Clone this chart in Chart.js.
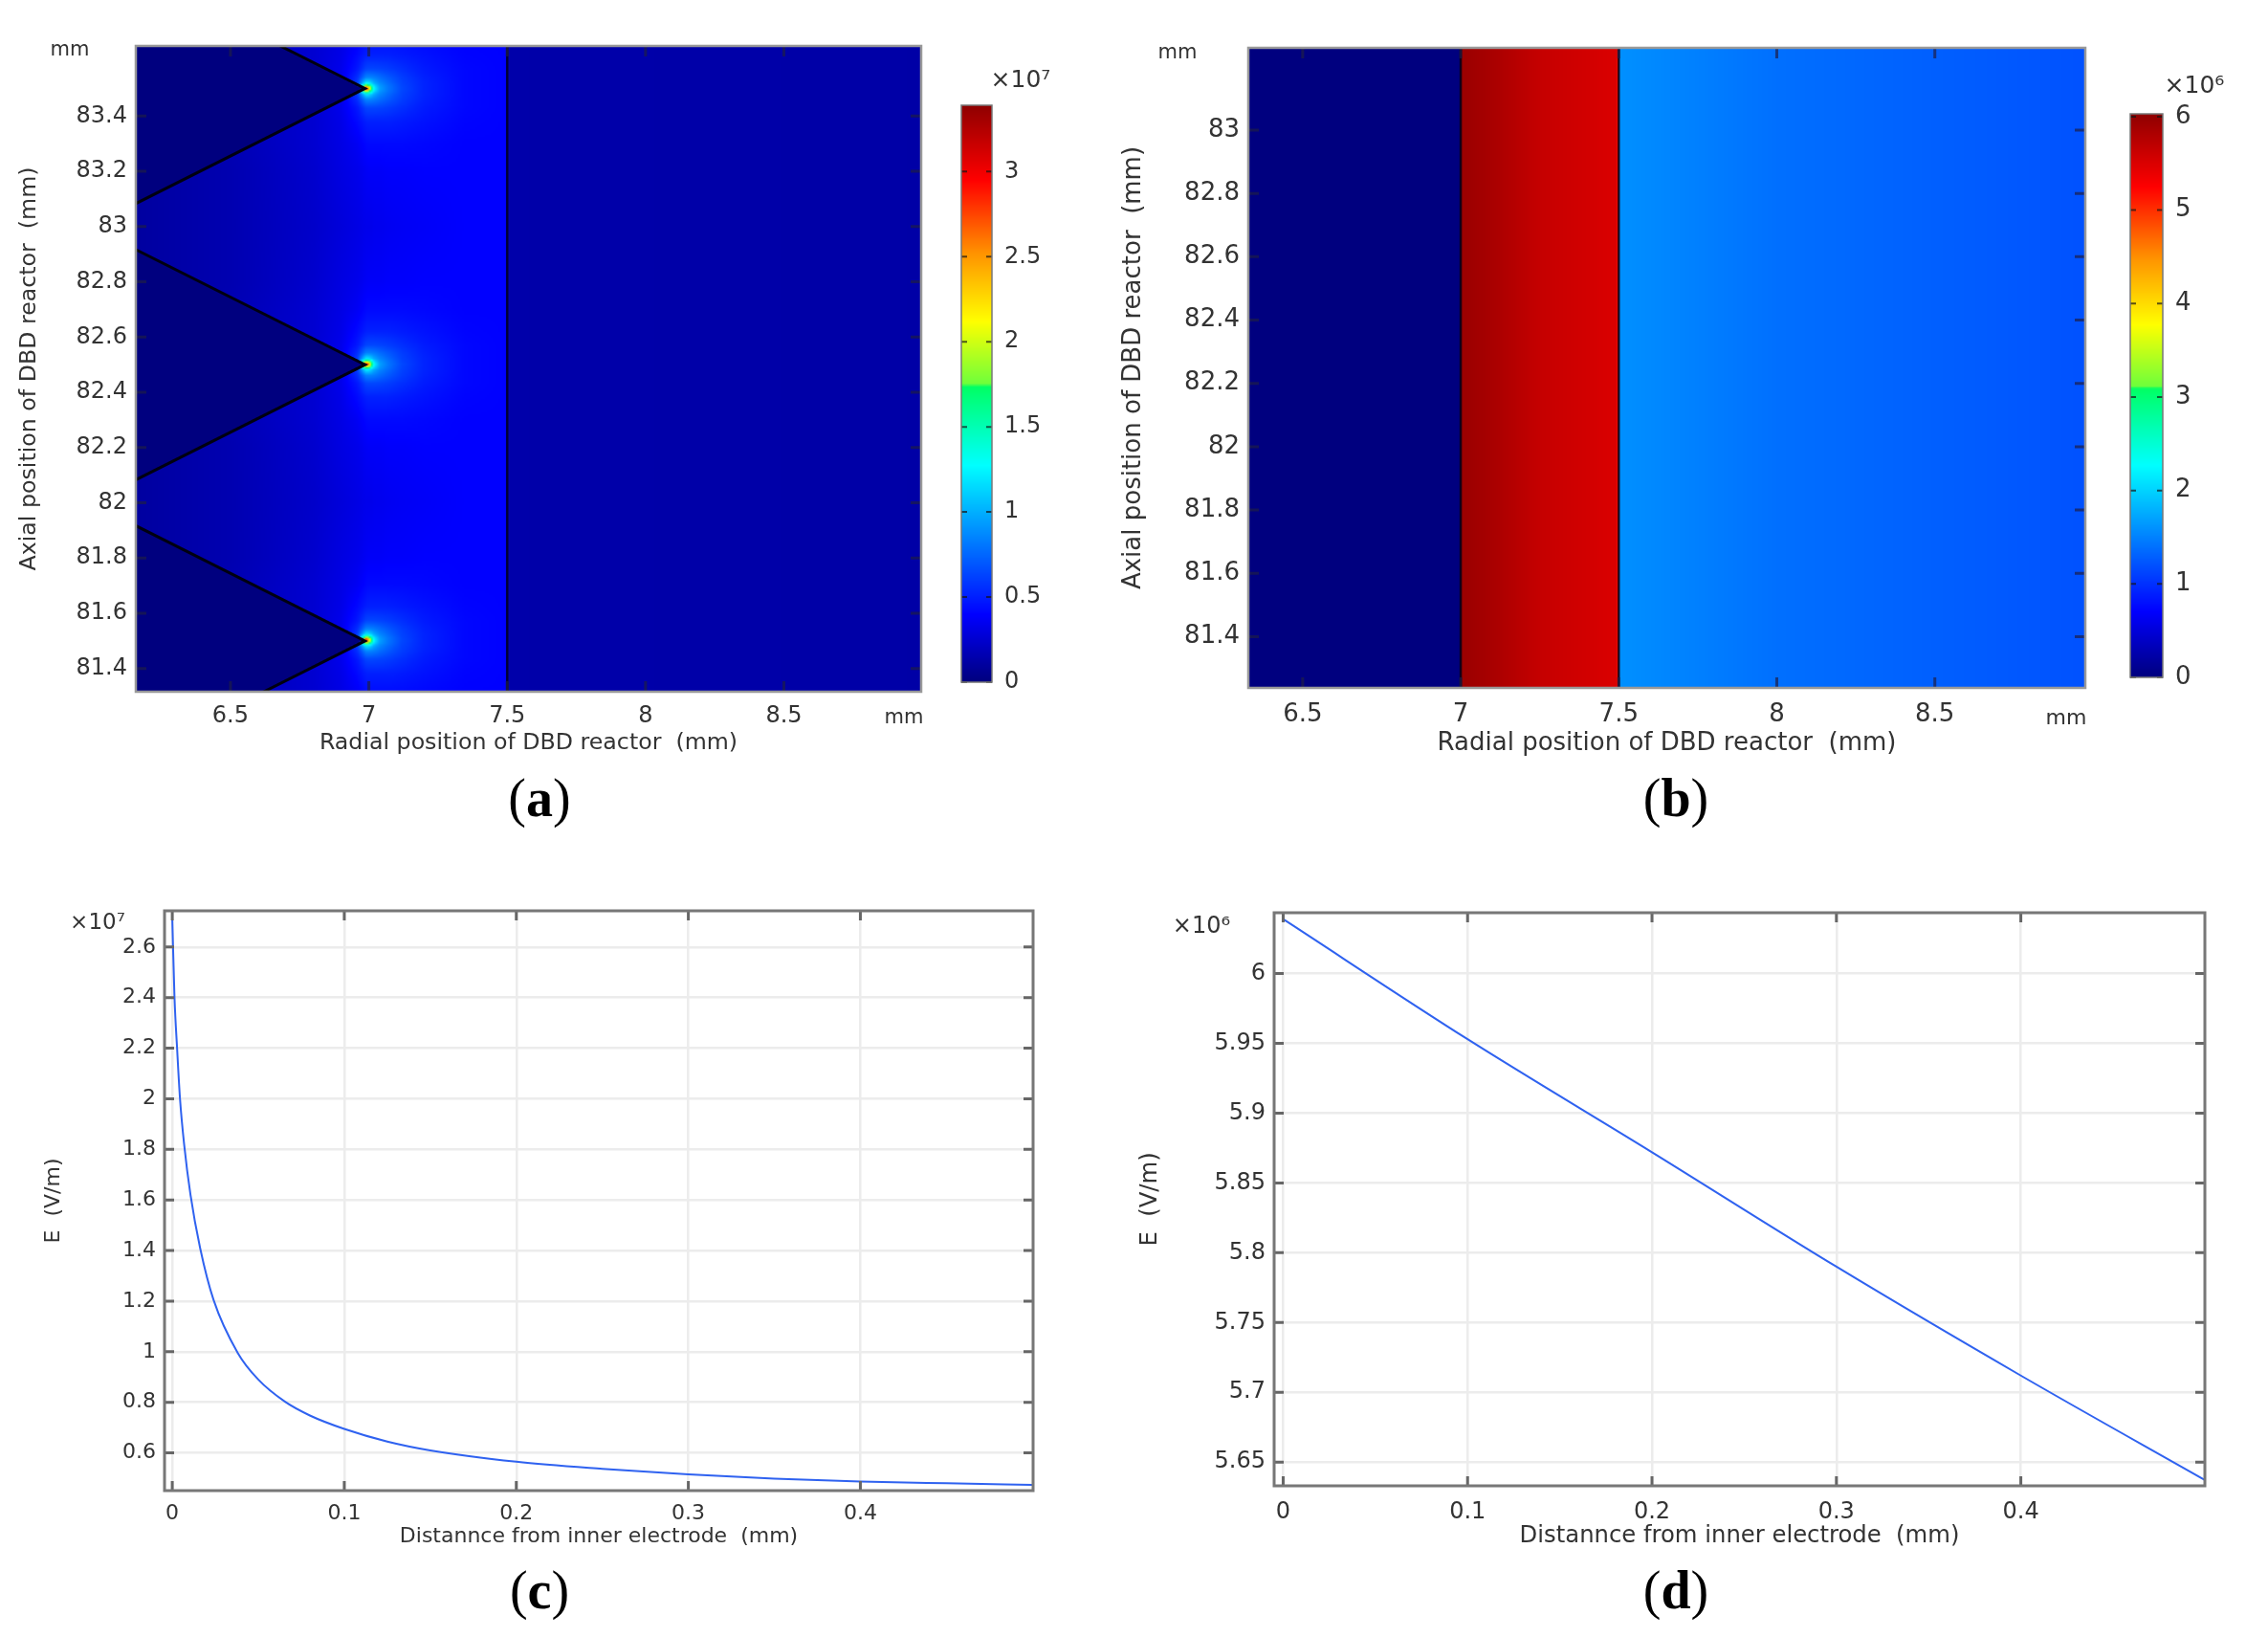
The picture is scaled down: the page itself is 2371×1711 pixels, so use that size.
<!DOCTYPE html>
<html>
<head>
<meta charset="utf-8">
<title>Campo eléctrico en el reactor DBD</title>
<script src="https://cdn.jsdelivr.net/npm/chart.js@4/dist/chart.umd.min.js"></script>
<style>
    html, body { margin: 0; padding: 0; background: #fff; }
    #lienzo { position: relative; width: 2371px; height: 1711px; overflow: hidden; background: #fff; }
    #lienzo canvas { position: absolute; }
    .rotulo { position: absolute; transform: translate(-50%, -50%); white-space: nowrap; color: #333; font-family: "DejaVu Sans", sans-serif; }
    .pie { position: absolute; transform: translate(-50%, -50%); color: #000; font-family: "Liberation Serif", serif; font-size: 56px; }
</style>
</head>
<body>
<div id="lienzo"></div>
<script>
// Panel (a): campo por filas (distancia axial a la punta) y columnas (posición radial), en 1e7 V/m
const radialA = [6.16, 6.5, 6.8, 6.9, 6.96, 6.99, 7.0, 7.01, 7.02, 7.04, 7.07, 7.12, 7.2, 7.35, 7.5];
const distanciaPuntaA = [0, 0.01, 0.02, 0.04, 0.07, 0.12, 0.2, 0.3, 0.5];
const fila0 = [0.1, 0.2, 0.25, 0.3, 0.5, 3.3, 2.6, 1.8, 1.25, 0.95, 0.8, 0.64, 0.51, 0.41, 0.39];
const fila1 = [0.1, 0.2, 0.25, 0.3, 0.55, 1.9, 1.8, 1.5, 1.15, 0.92, 0.79, 0.63, 0.51, 0.41, 0.39];
const fila2 = [0.1, 0.2, 0.25, 0.3, 0.6, 1.2, 1.2, 1.1, 0.98, 0.86, 0.76, 0.62, 0.51, 0.41, 0.39];
const fila3 = [0.1, 0.2, 0.25, 0.32, 0.55, 0.84, 0.85, 0.84, 0.82, 0.77, 0.7, 0.6, 0.5, 0.41, 0.39];
const fila4 = [0.1, 0.18, 0.25, 0.33, 0.47, 0.62, 0.63, 0.63, 0.63, 0.62, 0.6, 0.55, 0.48, 0.41, 0.39];
const fila5 = [0.1, 0.17, 0.25, 0.32, 0.42, 0.49, 0.5, 0.5, 0.5, 0.5, 0.5, 0.48, 0.45, 0.4, 0.39];
const fila6 = [0.1, 0.16, 0.25, 0.31, 0.36, 0.41, 0.42, 0.42, 0.42, 0.42, 0.42, 0.42, 0.41, 0.39, 0.39];
const fila7 = [0.1, 0.15, 0.24, 0.3, 0.33, 0.36, 0.37, 0.37, 0.37, 0.37, 0.38, 0.38, 0.39, 0.39, 0.39];
const fila8 = [0.1, 0.15, 0.23, 0.28, 0.31, 0.33, 0.33, 0.33, 0.34, 0.34, 0.35, 0.36, 0.37, 0.39, 0.39];
const filasA = [fila0, fila1, fila2, fila3, fila4, fila5, fila6, fila7, fila8];
const exteriorX = [7.5, 9];
const exteriorV = [0.13, 0.12];

// Electrodo dentado: puntas y perfil del diente
const puntasY = [83.5, 82.5, 81.5];
const dienteX = [6.1, 6.986, 6.1];
const dienteAlto = [0.446, 0, -0.446];
const paredA = [7.5];

// Panel (b): campo en función de la posición radial, en 1e6 V/m
const radialB = [6.3, 6.999, 7.001, 7.1, 7.25, 7.499, 7.501, 8, 8.5, 9];
const campoB = [0, 0, 5.95, 5.85, 5.65, 5.5, 1.58, 1.38, 1.28, 1.19];
const paredesB = [7, 7.5];

// Panel (c): curva E, en 1e7 V/m
const distanciaC = [0, 0.0013, 0.0028, 0.0045, 0.0069, 0.0106, 0.0162, 0.024, 0.0381, 0.05, 0.0654, 0.08, 0.1, 0.125, 0.15, 0.2, 0.25, 0.3, 0.35, 0.4, 0.45, 0.5];
const campoC = [2.71, 2.4, 2.2, 2.0, 1.82, 1.62, 1.41, 1.205, 0.995, 0.89, 0.803, 0.748, 0.695, 0.645, 0.61, 0.565, 0.537, 0.515, 0.498, 0.487, 0.48, 0.474];

// Panel (d): curva E, en 1e6 V/m
const distanciaD = [0, 0.1, 0.2, 0.3, 0.4, 0.5];
const campoD = [6.039, 5.953, 5.872, 5.79, 5.712, 5.637];

// Marcas de los ejes
const ticksRadialA = [6.5, 7, 7.5, 8, 8.5];
const ticksAxialA = [81.4, 81.6, 81.8, 82, 82.2, 82.4, 82.6, 82.8, 83, 83.2, 83.4];
const ticksAxialB = [81.4, 81.6, 81.8, 82, 82.2, 82.4, 82.6, 82.8, 83];
const ticksBarraA = [0, 0.5, 1, 1.5, 2, 2.5, 3];
const ticksBarraB = [0, 1, 2, 3, 4, 5, 6];
const ticksDistancia = [0, 0.1, 0.2, 0.3, 0.4];
const ticksCampoC = [0.6, 0.8, 1, 1.2, 1.4, 1.6, 1.8, 2, 2.2, 2.4, 2.6];
const ticksCampoD = [5.65, 5.7, 5.75, 5.8, 5.85, 5.9, 5.95, 6];

// Escala de color (fracción del máximo -> rgb)
const paradasColor = [0, 0.115, 0.375, 0.512, 0.516, 0.625, 0.74, 0.87, 1];
const coloresEscala = [[0, 0, 127], [0, 0, 255], [0, 255, 255], [0, 255, 100], [110, 255, 60], [255, 255, 0], [255, 150, 0], [255, 0, 0], [143, 0, 0]];

const AZUL_CURVA = '#2f62f0';
const GRIS_TEXTO = '#333';

function interpolar(xs, vs, x) {
    if (x <= xs[0]) return vs[0];
    for (let i = 1; i < xs.length; i++) {
        if (x <= xs[i]) {
            const t = (x - xs[i - 1]) / (xs[i] - xs[i - 1]);
            return vs[i - 1] + t * (vs[i] - vs[i - 1]);
        }
    }
    return vs[vs.length - 1];
}

function colorDe(fraccion) {
    const f = Math.max(0, Math.min(1, fraccion));
    return [0, 1, 2].map(c => interpolar(paradasColor, coloresEscala.map(k => k[c]), f));
}

/**
 * Valor del campo del panel (a) en una posición del reactor
 */
function valorPanelA(x, y) {
    if (x >= paredA[0]) return interpolar(exteriorX, exteriorV, x);
    const punta = puntasY.reduce((a, b) => Math.abs(b - y) < Math.abs(a - y) ? b : a);
    const dy = Math.abs(y - punta);
    const pendiente = dienteAlto[0] / (dienteX[1] - dienteX[0]);
    if (dy < pendiente * (dienteX[1] - x)) return 0;
    let i = 1;
    while (i < distanciaPuntaA.length - 1 && dy > distanciaPuntaA[i]) i++;
    const t = Math.min(1, (dy - distanciaPuntaA[i - 1]) / (distanciaPuntaA[i] - distanciaPuntaA[i - 1]));
    const v0 = interpolar(radialA, filasA[i - 1], x);
    const v1 = interpolar(radialA, filasA[i], x);
    return v0 + t * (v1 - v0);
}

// Pinta el mapa de color del área del gráfico usando las escalas de la propia gráfica
const pluginMapaColor = {
    id: 'mapaColor',
    beforeDatasetsDraw(chart, args, opts) {
        if (!opts.valor) return;
        const { ctx, chartArea: area, scales } = chart;
        const paso = 2;
        const ancho = Math.ceil(area.width / paso);
        const alto = Math.ceil(area.height / paso);
        const aux = document.createElement('canvas');
        aux.width = ancho;
        aux.height = alto;
        const actx = aux.getContext('2d');
        const img = actx.createImageData(ancho, alto);
        for (let j = 0; j < alto; j++) {
            const yv = scales.y.getValueForPixel(area.top + (j + 0.5) * paso);
            for (let i = 0; i < ancho; i++) {
                const xv = scales.x.getValueForPixel(area.left + (i + 0.5) * paso);
                const rgb = colorDe(opts.valor(xv, yv) / opts.maximo);
                const k = (j * ancho + i) * 4;
                img.data[k] = rgb[0];
                img.data[k + 1] = rgb[1];
                img.data[k + 2] = rgb[2];
                img.data[k + 3] = 255;
            }
        }
        actx.putImageData(img, 0, 0);
        ctx.save();
        ctx.imageSmoothingEnabled = true;
        ctx.drawImage(aux, area.left, area.top, area.width, area.height);
        ctx.restore();
    }
};

// Marco y marcas hacia dentro en los cuatro lados
const pluginMarco = {
    id: 'marco',
    afterDatasetsDraw(chart, args, opts) {
        const { ctx, chartArea: a, scales } = chart;
        ctx.save();
        ctx.strokeStyle = opts.colorMarca;
        ctx.lineWidth = opts.grosorMarca;
        ctx.beginPath();
        if (scales.x.options.display) {
            scales.x.ticks.forEach(t => {
                const px = scales.x.getPixelForValue(t.value);
                ctx.moveTo(px, a.top);
                ctx.lineTo(px, a.top + opts.largo);
                ctx.moveTo(px, a.bottom);
                ctx.lineTo(px, a.bottom - opts.largo);
            });
        }
        scales.y.ticks.forEach(t => {
            const py = scales.y.getPixelForValue(t.value);
            ctx.moveTo(a.left, py);
            ctx.lineTo(a.left + opts.largo, py);
            ctx.moveTo(a.right, py);
            ctx.lineTo(a.right - opts.largo, py);
        });
        ctx.stroke();
        ctx.strokeStyle = opts.colorMarco;
        ctx.lineWidth = opts.grosorMarco;
        ctx.strokeRect(a.left, a.top, a.width, a.height);
        ctx.restore();
    }
};

function crearCanvas(caja) {
    const canvas = document.createElement('canvas');
    canvas.style.left = caja.x + 'px';
    canvas.style.top = caja.y + 'px';
    canvas.width = caja.w;
    canvas.height = caja.h;
    document.getElementById('lienzo').appendChild(canvas);
    return canvas;
}

function ejeConTicks(valores, tamano, relleno) {
    return {
        afterBuildTicks: eje => { eje.ticks = valores.map(v => ({ value: v })); },
        ticks: {
            autoSkip: false,
            maxRotation: 0,
            padding: relleno,
            color: GRIS_TEXTO,
            font: { family: 'DejaVu Sans', size: tamano },
            callback: v => String(v)
        }
    };
}

/**
 * Crea una gráfica principal con su área de trazado en píxeles de la página
 */
function crearPanel(p) {
    const c = p.caja, r = p.area;
    const ejeX = ejeConTicks(p.ticksX, p.tamanoTicks, p.rellenoX);
    const ejeY = ejeConTicks(p.ticksY, p.tamanoTicks, p.rellenoY);
    const rejilla = p.rejilla
        ? { display: true, color: '#ececec', lineWidth: 2.5, drawTicks: false }
        : { display: false, drawTicks: false };
    new Chart(crearCanvas(c), {
        type: 'line',
        data: { datasets: p.series },
        options: {
            responsive: false,
            animation: false,
            layout: {
                autoPadding: false,
                padding: { left: 0, bottom: 0, top: r.t - c.y, right: c.x + c.w - r.r }
            },
            plugins: {
                legend: { display: false },
                tooltip: { enabled: false },
                mapaColor: { valor: p.valor, maximo: p.maximo },
                marco: p.marco
            },
            scales: {
                x: Object.assign(ejeX, {
                    type: 'linear',
                    min: p.rangoX[0],
                    max: p.rangoX[1],
                    grid: rejilla,
                    border: { display: false },
                    afterFit: e => { e.height = c.y + c.h - r.b; },
                    title: {
                        display: true,
                        text: p.tituloX,
                        color: GRIS_TEXTO,
                        font: { family: 'DejaVu Sans', size: p.tamanoTitulo, lineHeight: 1 },
                        padding: { top: 0, bottom: c.y + c.h - p.tituloXCentro - p.tamanoTitulo / 2 }
                    }
                }),
                y: Object.assign(ejeY, {
                    type: 'linear',
                    min: p.rangoY[0],
                    max: p.rangoY[1],
                    grid: rejilla,
                    border: { display: false },
                    afterFit: e => { e.width = r.l - c.x; },
                    title: {
                        display: true,
                        text: p.tituloY,
                        color: GRIS_TEXTO,
                        font: { family: 'DejaVu Sans', size: p.tamanoTitulo, lineHeight: 1 },
                        padding: { top: p.tituloYCentro - c.x - p.tamanoTitulo / 2, bottom: 0 }
                    }
                })
            }
        },
        plugins: [pluginMapaColor, pluginMarco]
    });
}

/**
 * Crea la barra de color vertical de un panel
 */
function crearBarra(b) {
    const c = b.caja, r = b.area;
    const ejeY = ejeConTicks(b.ticks, b.tamanoTicks, b.relleno);
    new Chart(crearCanvas(c), {
        type: 'line',
        data: { datasets: [] },
        options: {
            responsive: false,
            animation: false,
            layout: {
                autoPadding: false,
                padding: { left: r.l - c.x, top: r.t - c.y, right: 0, bottom: c.y + c.h - r.b }
            },
            plugins: {
                legend: { display: false },
                tooltip: { enabled: false },
                mapaColor: { valor: (x, y) => y, maximo: b.maximo },
                marco: { largo: 6, colorMarca: 'rgba(20,20,20,0.7)', grosorMarca: 2, colorMarco: '#777', grosorMarco: 1.5 }
            },
            scales: {
                x: { type: 'linear', min: 0, max: 1, display: false },
                y: Object.assign(ejeY, {
                    type: 'linear',
                    position: 'right',
                    min: 0,
                    max: b.maximo,
                    grid: { display: false, drawTicks: false },
                    border: { display: false },
                    afterFit: e => { e.width = c.x + c.w - r.r; }
                })
            }
        },
        plugins: [pluginMapaColor, pluginMarco]
    });
}

function serieDiente(punta) {
    return {
        data: dienteX.map((x, i) => ({ x: x, y: punta + dienteAlto[i] })),
        borderColor: '#000010',
        borderWidth: 3,
        pointRadius: 0,
        tension: 0
    };
}

function serieVertical(x, ymin, ymax) {
    return {
        data: [{ x: x, y: ymin }, { x: x, y: ymax }],
        borderColor: 'rgba(0,0,20,0.8)',
        borderWidth: 2.5,
        pointRadius: 0,
        tension: 0
    };
}

function serieCurva(xs, ys) {
    return {
        data: xs.map((x, i) => ({ x: x, y: ys[i] })),
        borderColor: AZUL_CURVA,
        borderWidth: 2,
        pointRadius: 0,
        cubicInterpolationMode: 'monotone'
    };
}

function rotulo(texto, x, y, tamano) {
    const el = document.createElement('span');
    el.className = 'rotulo';
    el.textContent = texto;
    el.style.left = x + 'px';
    el.style.top = y + 'px';
    el.style.fontSize = tamano + 'px';
    document.getElementById('lienzo').appendChild(el);
}

function pie(letra, x, y) {
    const el = document.createElement('span');
    el.className = 'pie';
    el.innerHTML = '(<b>' + letra + '</b>)';
    el.style.left = x + 'px';
    el.style.top = y + 'px';
    document.getElementById('lienzo').appendChild(el);
}

const marcoCampo = { largo: 11, colorMarca: 'rgba(30,30,70,0.7)', grosorMarca: 3, colorMarco: '#999', grosorMarco: 2.5 };
const marcoCurva = { largo: 10, colorMarca: '#666', grosorMarca: 3, colorMarco: '#777', grosorMarco: 3 };

// Panel (a)
crearPanel({
    caja: { x: 0, y: 0, w: 1000, h: 800 },
    area: { l: 142, r: 963, t: 48, b: 723 },
    rangoX: [6.158, 8.996], rangoY: [81.316, 83.654],
    ticksX: ticksRadialA, ticksY: ticksAxialA,
    tamanoTicks: 24, rellenoX: 11, rellenoY: 9,
    tamanoTitulo: 23.7,
    tituloX: 'Radial position of DBD reactor  (mm)', tituloXCentro: 777,
    tituloY: 'Axial position of DBD reactor  (mm)', tituloYCentro: 31,
    valor: valorPanelA, maximo: 3.39,
    series: puntasY.map(serieDiente).concat(paredA.map(x => serieVertical(x, 81.316, 83.654))),
    marco: marcoCampo
});
crearBarra({
    caja: { x: 995, y: 60, w: 125, h: 703 },
    area: { l: 1005, r: 1037, t: 110, b: 713 },
    ticks: ticksBarraA, tamanoTicks: 24, relleno: 13, maximo: 3.39
});

// Panel (b)
crearPanel({
    caja: { x: 1130, y: 0, w: 1070, h: 800 },
    area: { l: 1305, r: 2180, t: 50, b: 719 },
    rangoX: [6.328, 8.976], rangoY: [81.238, 83.26],
    ticksX: ticksRadialA, ticksY: ticksAxialB,
    tamanoTicks: 26, rellenoX: 13, rellenoY: 9,
    tamanoTitulo: 26,
    tituloX: 'Radial position of DBD reactor  (mm)', tituloXCentro: 777,
    tituloY: 'Axial position of DBD reactor  (mm)', tituloYCentro: 1185,
    valor: x => interpolar(radialB, campoB, x), maximo: 6.03,
    series: paredesB.map(x => serieVertical(x, 81.238, 83.26)),
    marco: marcoCampo
});
crearBarra({
    caja: { x: 2217, y: 60, w: 125, h: 698 },
    area: { l: 2227, r: 2261, t: 119, b: 708 },
    ticks: ticksBarraB, tamanoTicks: 26, relleno: 13, maximo: 6.03
});

// Panel (c)
crearPanel({
    caja: { x: 0, y: 900, w: 1100, h: 730 },
    area: { l: 172, r: 1080, t: 952, b: 1558 },
    rangoX: [-0.0045, 0.5004], rangoY: [0.451, 2.743],
    ticksX: ticksDistancia, ticksY: ticksCampoC,
    tamanoTicks: 22, rellenoX: 11, rellenoY: 9,
    tamanoTitulo: 22,
    tituloX: 'Distannce from inner electrode  (mm)', tituloXCentro: 1606,
    tituloY: 'E  (V/m)', tituloYCentro: 56,
    series: [serieCurva(distanciaC, campoC)],
    rejilla: true,
    marco: marcoCurva
});

// Panel (d)
crearPanel({
    caja: { x: 1130, y: 900, w: 1190, h: 730 },
    area: { l: 1332, r: 2305, t: 954, b: 1553 },
    rangoX: [-0.0049, 0.4998], rangoY: [5.633, 6.0436],
    ticksX: ticksDistancia, ticksY: ticksCampoD,
    tamanoTicks: 24, rellenoX: 13, rellenoY: 9,
    tamanoTitulo: 24.3,
    tituloX: 'Distannce from inner electrode  (mm)', tituloXCentro: 1606,
    tituloY: 'E  (V/m)', tituloYCentro: 1203,
    series: [serieCurva(distanciaD, campoD)],
    rejilla: true,
    marco: marcoCurva
});

// Unidades y factores de escala
rotulo('mm', 73, 51, 21);
rotulo('mm', 945, 749, 21);
rotulo('×10⁷', 1067, 82, 25);
rotulo('mm', 1231, 54, 21);
rotulo('mm', 2160, 749, 22);
rotulo('×10⁶', 2294, 88, 25);
rotulo('×10⁷', 102, 963, 23);
rotulo('×10⁶', 1256, 967, 24);

pie('a', 564, 834);
pie('b', 1752, 834);
pie('c', 564, 1662);
pie('d', 1752, 1662);
</script>
</body>
</html>
